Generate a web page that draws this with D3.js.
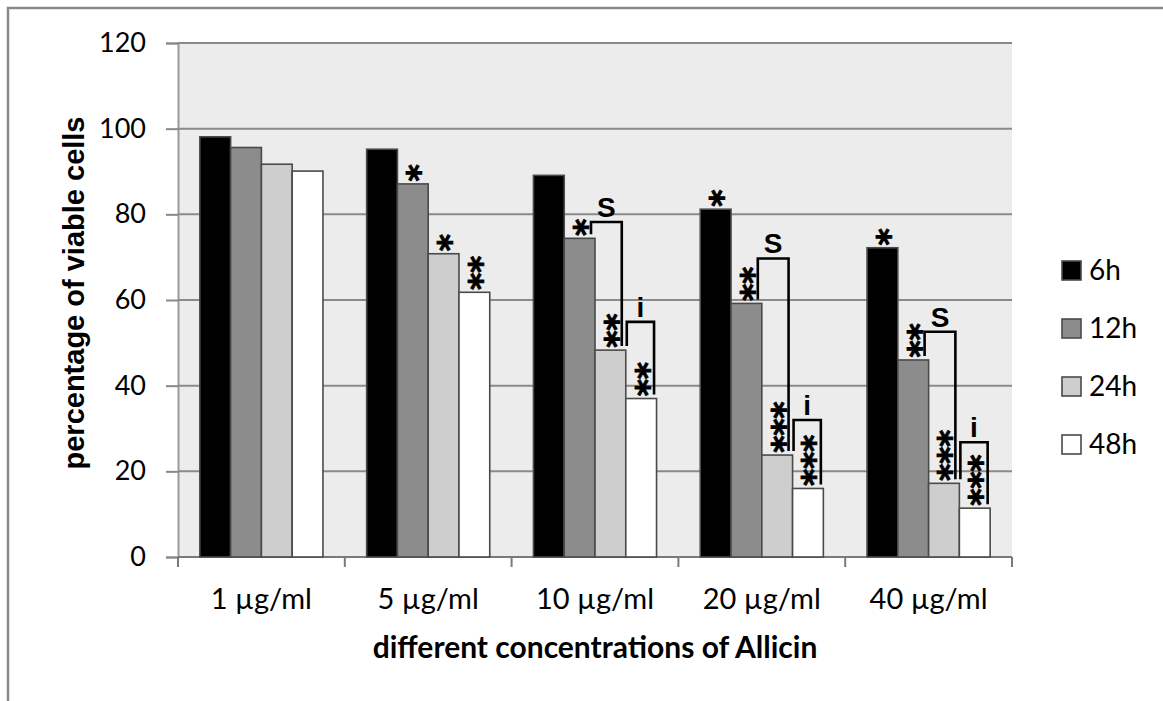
<!DOCTYPE html>
<html>
<head>
<meta charset="utf-8">
<script src="https://cdn.jsdelivr.net/npm/d3@7"></script>
<style>
  body { margin: 0; background: #fff; }
  text { fill: #000; }
</style>
</head>
<body>
<svg id="chart"></svg>
<script>
const width = 1163;
const height = 701;

// data
const concentrations = ['1 µg/ml', '5 µg/ml', '10 µg/ml', '20 µg/ml', '40 µg/ml'];
const hours = ['6h', '12h', '24h', '48h'];
const viable6h = [98.1, 95.2, 89.1, 81.2, 72.2];
const viable12h = [95.6, 87.1, 74.4, 59.2, 46.0];
const viable24h = [91.7, 70.8, 48.3, 23.8, 17.2];
const viable48h = [90.1, 61.8, 37.0, 16.0, 11.4];
const yTicks = [0, 20, 40, 60, 80, 100, 120];

// number of asterisks above each bar
const stars6h = [0, 0, 0, 1, 1];
const stars12h = [0, 1, 1, 2, 2];
const stars24h = [0, 1, 2, 3, 3];
const stars48h = [0, 2, 2, 3, 3];

// comparison brackets
const bracketConc = ['10 µg/ml', '10 µg/ml', '20 µg/ml', '20 µg/ml', '40 µg/ml', '40 µg/ml'];
const bracketLabel = ['S', 'i', 'S', 'i', 'S', 'i'];
const bracketFrom = ['12h', '24h', '12h', '24h', '12h', '24h'];
const bracketTo = ['24h', '48h', '24h', '48h', '24h', '48h'];
const bracketTop = [78.2, 54.9, 69.7, 32.0, 52.6, 26.8];

const valuesByHour = [viable6h, viable12h, viable24h, viable48h];
const starsByHour = [stars6h, stars12h, stars24h, stars48h];
const colors = ['#000000', '#8c8c8c', '#cecece', '#ffffff'];

const margin = { top: 43, right: 151, bottom: 144, left: 178 };

const svg = d3.select('#chart')
    .attr('width', width)
    .attr('height', height);

// outer frame (bottom/right run off the picture)
svg.append('rect')
    .attr('x', 8).attr('y', 8)
    .attr('width', 1200).attr('height', 720)
    .attr('fill', 'none')
    .attr('stroke', '#8a8a8a')
    .attr('stroke-width', 2.5);

const x0 = d3.scaleBand()
    .domain(concentrations)
    .range([margin.left, width - margin.right]);

const x1 = d3.scaleBand()
    .domain(hours)
    .range([0, x0.bandwidth()])
    .paddingOuter(0.71);

const y = d3.scaleLinear()
    .domain([0, 120])
    .range([height - margin.bottom, margin.top]);

// plot background
svg.append('rect')
    .attr('x', margin.left)
    .attr('y', margin.top)
    .attr('width', x0.range()[1] - margin.left)
    .attr('height', y(0) - margin.top)
    .attr('fill', '#ececec');

// y axis with gridlines
const yAxis = svg.append('g')
    .attr('transform', `translate(${margin.left},0)`)
    .call(d3.axisLeft(y).tickValues(yTicks).tickSize(12).tickPadding(20));
yAxis.select('.domain').attr('stroke', '#9a9a9a').attr('stroke-width', 2);
yAxis.selectAll('.tick line').attr('stroke', '#888').attr('stroke-width', 2);
yAxis.selectAll('.tick text')
    .style('font-family', 'Lato, "Open Sans", sans-serif')
    .style('font-size', '27px')
    .attr('fill', '#000');

svg.append('g')
    .selectAll('line')
    .data(yTicks.filter(d => d > 0))
    .join('line')
    .attr('x1', margin.left)
    .attr('x2', x0.range()[1])
    .attr('y1', d => y(d))
    .attr('y2', d => y(d))
    .attr('stroke', '#8a8a8a')
    .attr('stroke-width', 2);

// x axis: ticks at category boundaries
const xAxis = svg.append('g')
    .attr('transform', `translate(0,${y(0)})`);
xAxis.append('line')
    .attr('x1', x0.range()[0]).attr('x2', x0.range()[1])
    .attr('stroke', '#7a7a7a').attr('stroke-width', 2);
xAxis.selectAll('.bound')
    .data(d3.range(concentrations.length + 1))
    .join('line')
    .attr('class', 'bound')
    .attr('x1', i => x0.range()[0] + i * x0.step())
    .attr('x2', i => x0.range()[0] + i * x0.step())
    .attr('y1', 0).attr('y2', 10)
    .attr('stroke', '#7a7a7a').attr('stroke-width', 2);
xAxis.selectAll('.lab')
    .data(concentrations)
    .join('text')
    .attr('class', 'lab')
    .attr('x', d => x0(d) + x0.bandwidth() / 2)
    .attr('y', 52)
    .attr('text-anchor', 'middle')
    .style('font-family', 'Lato, "Open Sans", sans-serif')
    .style('font-size', '29px')
    .text(d => d);

// bars
const groups = svg.append('g')
    .selectAll('g')
    .data(concentrations)
    .join('g')
    .attr('transform', d => `translate(${x0(d)},0)`);

groups.selectAll('rect')
    .data((c, ci) => hours.map((h, hi) => ({ h, hi, v: valuesByHour[hi][ci] })))
    .join('rect')
    .attr('x', d => x1(d.h))
    .attr('y', d => y(d.v))
    .attr('width', x1.bandwidth())
    .attr('height', d => y(0) - y(d.v))
    .attr('fill', d => colors[d.hi])
    .attr('stroke', '#4a4a4a')
    .attr('stroke-width', 1.6);

// asterisks: each stack is one text turned upright, so stars pile upwards
const starSize = 33;
const starPitch = 17;
const starFont = '"DejaVu Sans", sans-serif';

const probe = svg.append('text')
    .style('font-family', starFont)
    .style('font-weight', 'bold')
    .style('font-size', starSize + 'px')
    .text('*');
const starAdvance = probe.node().getComputedTextLength();
probe.remove();

const stacks = [];
concentrations.forEach((c, ci) => {
    hours.forEach((h, hi) => {
        const n = starsByHour[hi][ci];
        if (n > 0) stacks.push({ c, h, v: valuesByHour[hi][ci], n });
    });
});

svg.append('g')
    .selectAll('text')
    .data(stacks)
    .join('text')
    .attr('transform', d => {
        const cx = x0(d.c) + x1(d.h) + x1.bandwidth() / 2;
        const yb = y(d.v) - 11 + starAdvance / 2;
        return `translate(${cx + 0.56 * starSize},${yb}) rotate(-90)`;
    })
    .style('font-family', starFont)
    .style('font-weight', 'bold')
    .style('font-size', starSize + 'px')
    .style('letter-spacing', (starPitch - starAdvance) + 'px')
    .attr('stroke', '#000')
    .attr('stroke-width', 0.9)
    .text(d => '*'.repeat(d.n));

// brackets
const insetLeft = { S: -4, i: 1 };
const insetRight = { S: -4, i: -2.5 };
const brackets = bracketLabel.map((lab, i) => {
    const ci = concentrations.indexOf(bracketConc[i]);
    const fi = hours.indexOf(bracketFrom[i]);
    const ti = hours.indexOf(bracketTo[i]);
    const xl = x0(bracketConc[i]) + x1(bracketFrom[i]) + x1.bandwidth() + insetLeft[lab];
    const xr = x0(bracketConc[i]) + x1(bracketTo[i]) + x1.bandwidth() + insetRight[lab];
    return {
        lab, xl, xr,
        yt: y(bracketTop[i]),
        yl: y(valuesByHour[fi][ci]) - 4,
        yr: y(valuesByHour[ti][ci]) - 4
    };
});

svg.append('g')
    .selectAll('path')
    .data(brackets)
    .join('path')
    .attr('d', d => `M${d.xl},${d.yl}V${d.yt}H${d.xr}V${d.yr}`)
    .attr('fill', 'none')
    .attr('stroke', '#000')
    .attr('stroke-width', 2.6);

svg.append('g')
    .selectAll('text')
    .data(brackets)
    .join('text')
    .attr('x', d => (d.xl + d.xr) / 2)
    .attr('y', d => d.yt - 5)
    .attr('text-anchor', 'middle')
    .style('font-family', '"Liberation Sans", Arial, sans-serif')
    .style('font-weight', 'bold')
    .style('font-size', '28px')
    .text(d => d.lab);

// axis titles
svg.append('text')
    .attr('transform', `translate(84,${(y(0) + y(120)) / 2 - 7}) rotate(-90)`)
    .attr('text-anchor', 'middle')
    .style('font-family', '"Liberation Sans", Arial, sans-serif')
    .style('font-weight', 'bold')
    .style('font-size', '29px')
    .text('percentage of viable cells');

svg.append('text')
    .attr('x', (x0.range()[0] + x0.range()[1]) / 2)
    .attr('y', 658)
    .attr('text-anchor', 'middle')
    .style('font-family', 'Lato, "Open Sans", sans-serif')
    .style('font-weight', 'bold')
    .style('font-size', '30px')
    .text('different concentrations of Allicin');

// legend
const legend = svg.append('g')
    .attr('transform', 'translate(1062,261)');
const items = legend.selectAll('g')
    .data(hours)
    .join('g')
    .attr('transform', (d, i) => `translate(0,${i * 58})`);
items.append('rect')
    .attr('width', 19).attr('height', 19)
    .attr('fill', (d, i) => colors[i])
    .attr('stroke', '#4a4a4a')
    .attr('stroke-width', 1.6);
items.append('text')
    .attr('x', 27)
    .attr('y', 19)
    .style('font-family', 'Lato, "Open Sans", sans-serif')
    .style('font-size', '28px')
    .text(d => d);
</script>
</body>
</html>
